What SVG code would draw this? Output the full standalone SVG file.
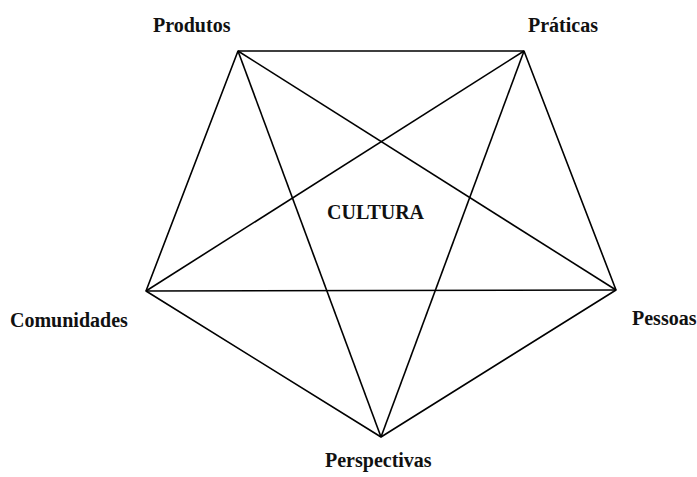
<svg xmlns="http://www.w3.org/2000/svg" width="697" height="477" viewBox="0 0 697 477">
<style>
.l{stroke:#000;stroke-width:1.6;fill:none;stroke-linejoin:round}
.t{font-family:"Liberation Serif","Times New Roman",serif;font-weight:bold;font-size:20px;fill:#111}
</style>
<rect width="697" height="477" fill="#fff"/>
<g id="connectors">
<polygon class="l" points="238,51 524,51 616,290 381,437 146,291"/>
<line class="l" x1="238" y1="51" x2="616" y2="290"/>
<line class="l" x1="238" y1="51" x2="381" y2="437"/>
<line class="l" x1="524" y1="51" x2="146" y2="291"/>
<line class="l" x1="524" y1="51" x2="381" y2="437"/>
<line class="l" x1="146" y1="291" x2="616" y2="290"/>
</g>
<g id="produtos"><text class="t" x="153" y="32">Produtos</text></g>
<g id="praticas"><text class="t" x="528" y="32">Práticas</text></g>
<g id="comunidades"><text class="t" x="10" y="327">Comunidades</text></g>
<g id="pessoas"><text class="t" x="632" y="325">Pessoas</text></g>
<g id="perspectivas"><text class="t" x="325" y="467">Perspectivas</text></g>
<g id="cultura"><text class="t" x="327" y="219">CULTURA</text></g>
</svg>
